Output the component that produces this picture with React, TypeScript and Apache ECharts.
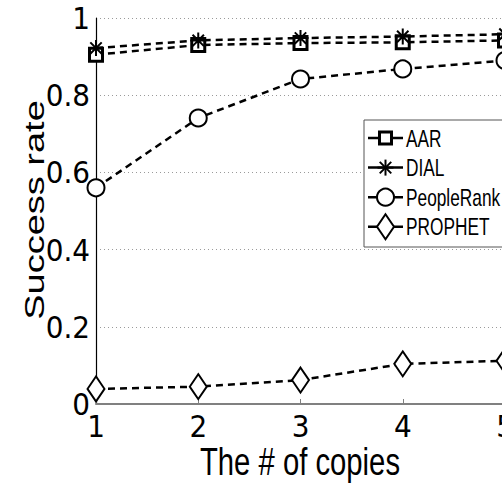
import React, { useEffect, useRef } from "react";
import * as echarts from "echarts";

const copies = [1, 2, 3, 4, 5];
const aar = [0.905, 0.93, 0.935, 0.937, 0.942];
const dial = [0.922, 0.942, 0.948, 0.952, 0.958];
const peopleRank = [0.56, 0.741, 0.842, 0.868, 0.89];
const prophet = [0.039, 0.045, 0.062, 0.104, 0.112];
const yTicks = [0, 0.2, 0.4, 0.6, 0.8, 1];
const seriesNames = ["AAR", "DIAL", "PeopleRank", "PROPHET"];

const TICK_FONT = "DejaVu Sans Condensed, Liberation Sans, sans-serif";
const TITLE_FONT = "Liberation Sans, Arial, sans-serif";
const STAR = "path://M8,0L8,16M0,8L16,8M2.3,2.3L13.7,13.7M2.3,13.7L13.7,2.3";

function legendSymbol(kind: number, cx: number, cy: number): any {
  const stroke = { stroke: "#000", lineWidth: 2, fill: "#fff" };
  if (kind === 0) {
    return { type: "rect", shape: { x: cx - 6, y: cy - 6, width: 12, height: 12 }, style: { ...stroke, lineWidth: 3 } };
  }
  if (kind === 1) {
    const r = 8;
    const d = r * 0.72;
    const seg = (x1: number, y1: number, x2: number, y2: number) => ({
      type: "line",
      shape: { x1, y1, x2, y2 },
      style: { stroke: "#000", lineWidth: 2 },
    });
    return {
      type: "group",
      children: [
        seg(cx, cy - r, cx, cy + r),
        seg(cx - r, cy, cx + r, cy),
        seg(cx - d, cy - d, cx + d, cy + d),
        seg(cx - d, cy + d, cx + d, cy - d),
      ],
    };
  }
  if (kind === 2) {
    return { type: "circle", shape: { cx, cy, r: 8.5 }, style: stroke };
  }
  return {
    type: "polygon",
    shape: { points: [[cx, cy - 12.5], [cx + 8.5, cy], [cx, cy + 12.5], [cx - 8.5, cy]] },
    style: stroke,
  };
}

export default function App() {
  const ref = useRef<HTMLDivElement>(null);
  useEffect(() => {
    if (!ref.current) return;
    const chart = echarts.init(ref.current, undefined, { renderer: "svg" });
    const pair = (arr: number[]) => copies.map((c, i) => [c, arr[i]]);
    const base = {
      type: "line",
      clip: false,
      showAllSymbol: true,
      lineStyle: { color: "#000", width: 2.5, type: [7, 5] },
      itemStyle: { color: "#fff", borderColor: "#000", borderWidth: 2 },
      z: 3,
    };

    const legendTop = 120;
    const legendLeft = 364;
    const rowPitch = 29.6;
    const firstRow = 138;
    const legendItems: any[] = [
      {
        type: "rect",
        shape: { x: legendLeft, y: legendTop, width: 160, height: 127 },
        style: { fill: "#fff", stroke: "#555", lineWidth: 1 },
        z: 10,
      },
    ];
    seriesNames.forEach((name, i) => {
      const cy = firstRow + rowPitch * i;
      legendItems.push({
        type: "line",
        shape: { x1: 368, y1: cy, x2: 403, y2: cy },
        style: { stroke: "#000", lineWidth: 2.5 },
        z: 11,
      });
      const sym = legendSymbol(i, 385.5, cy);
      sym.z = 12;
      if (sym.children) sym.children.forEach((c: any) => (c.z = 12));
      legendItems.push(sym);
      legendItems.push({
        type: "text",
        x: 406,
        y: cy,
        scaleX: 0.72,
        z: 12,
        style: {
          text: name,
          fontSize: 24,
          fontFamily: TITLE_FONT,
          fill: "#000",
          align: "left",
          verticalAlign: "middle",
        },
      });
    });

    chart.setOption({
      animation: false,
      backgroundColor: "#fff",
      grid: { left: 96, top: 18, right: -3, bottom: 81, containLabel: false, outerBoundsMode: "none" },
      xAxis: {
        type: "value",
        min: 1,
        max: 5,
        interval: 1,
        axisLine: { show: true, lineStyle: { color: "#808080", width: 2 } },
        axisTick: { show: true, inside: true, length: 5, lineStyle: { color: "#808080", width: 1 } },
        axisLabel: { color: "#000", fontSize: 31, fontFamily: TICK_FONT, margin: 6, hideOverlap: false },
        splitLine: { show: false },
      },
      yAxis: {
        type: "value",
        min: 0,
        max: 1,
        interval: 0.2,
        axisLine: { show: true, lineStyle: { color: "#000", width: 1.2 } },
        axisTick: { show: false },
        axisLabel: {
          color: "#000",
          fontSize: 31,
          fontFamily: TICK_FONT,
          margin: 6,
          formatter: (v: number) => {
            const t = yTicks.find((k) => Math.abs(k - v) < 1e-6);
            return t === undefined ? "" : String(t);
          },
        },
        splitLine: { show: true, lineStyle: { color: "#9a9a9a", width: 1, type: [1, 3] } },
      },
      graphic: [
        {
          type: "text",
          x: 34,
          y: 210,
          rotation: Math.PI / 2,
          scaleY: 0.75,
          style: {
            text: "Success rate",
            fontSize: 38,
            fontFamily: TITLE_FONT,
            fill: "#000",
            align: "center",
            verticalAlign: "middle",
          },
        },
        {
          type: "text",
          x: 300,
          y: 462,
          scaleX: 0.77,
          style: {
            text: "The # of copies",
            fontSize: 38,
            fontFamily: TITLE_FONT,
            fill: "#000",
            align: "center",
            verticalAlign: "middle",
          },
        },
        ...legendItems,
      ],
      series: [
        { ...base, name: "AAR", data: pair(aar), symbol: "rect", symbolSize: 13, itemStyle: { color: "#fff", borderColor: "#000", borderWidth: 3 } },
        { ...base, name: "DIAL", data: pair(dial), symbol: STAR, symbolSize: 16, itemStyle: { color: "#000", borderColor: "#000", borderWidth: 2 } },
        { ...base, name: "PeopleRank", data: pair(peopleRank), symbol: "circle", symbolSize: 17 },
        { ...base, name: "PROPHET", data: pair(prophet), symbol: "diamond", symbolSize: [17, 25] },
      ],
    });
    return () => chart.dispose();
  }, []);
  return (
    <div
      ref={ref}
      style={{ position: "absolute", left: 0, top: 0, width: 502, height: 485, overflow: "hidden" }}
    />
  );
}
